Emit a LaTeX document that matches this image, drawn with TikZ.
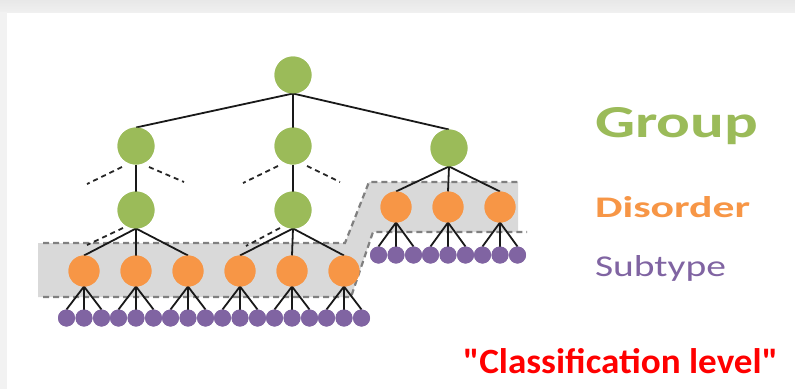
\documentclass[tikz,border=0pt]{standalone}
\usepackage{fontspec}
\usepackage{graphicx}
\setmainfont{Carlito}[Ligatures=TeXOff]
\definecolor{grp}{HTML}{9BBB59}
\definecolor{dis}{HTML}{F79646}
\definecolor{sub}{HTML}{8064A2}
\definecolor{bandfill}{HTML}{D9D9D9}
\definecolor{bandline}{HTML}{808080}
\tikzset{
  groupnode/.style={circle,fill=grp,minimum size=37pt,inner sep=0pt,outer sep=0pt},
  disnode/.style={circle,fill=dis,minimum size=31pt,inner sep=0pt,outer sep=0pt},
  subnode/.style={circle,fill=sub,minimum size=17pt,inner sep=0pt,outer sep=0pt},
  edge/.style={draw=black!90,line width=1.8pt},
  hintline/.style={draw=black!85,line width=1.8pt,dash pattern=on 5pt off 4pt},
  bandedge/.style={draw=bandline,line width=2.2pt,dash pattern=on 6pt off 4pt},
  label/.style={anchor=base west,inner sep=0pt,outer sep=0pt},
}
\begin{document}
\begin{tikzpicture}[x=1pt,y=-1pt]
  \useasboundingbox (0,0) rectangle (795,389);
  % page frame
  \fill[white] (0,0) rectangle (795,389);
  \shade[top color=black!9,bottom color=black!6] (0,0) rectangle (795,12);
  \fill[black!5] (0,12) rectangle (7,389);

  % shaded band holding the disorder level
  \fill[bandfill] (38,243) -- (345,243) -- (369,182) -- (518,182) -- (518,232)
                  -- (373,232) -- (351,297) -- (38,297) -- cycle;
  \draw[bandedge] (43,243) -- (345,243) -- (369,182) -- (518,182);
  \draw[bandedge] (43,297) -- (351,297) -- (373,232) -- (527,232);

  % group level
  \node[groupnode] (root) at (293,75) {};
  \node[groupnode] (ga) at (136,146) {};
  \node[groupnode] (gb) at (293,146) {};
  \node[groupnode] (gc) at (449,148) {};
  \node[groupnode] (gaa) at (136,210) {};
  \node[groupnode] (gba) at (293,210) {};

  % disorder level
  \foreach \i/\x in {1/84,2/136,3/188,4/240,5/292,6/344}
    \node[disnode] (d\i) at (\x,271) {};
  \foreach \i/\x in {7/396,8/448,9/500}
    \node[disnode] (d\i) at (\x,207) {};

  % subtype level
  \foreach \i/\x in {1/84,2/136,3/188,4/240,5/292,6/344} {
    \node[subnode] (s\i a) at (\x-17.5,318) {};
    \node[subnode] (s\i b) at (\x,318) {};
    \node[subnode] (s\i c) at (\x+17.5,318) {};
  }
  \foreach \i/\x in {7/396,8/448,9/500} {
    \node[subnode] (s\i a) at (\x-17.5,255) {};
    \node[subnode] (s\i b) at (\x,255) {};
    \node[subnode] (s\i c) at (\x+17.5,255) {};
  }

  % ends of the elided branches
  \coordinate (ha1) at (122,167); \coordinate (ha2) at (87,184);
  \coordinate (hb1) at (149,167); \coordinate (hb2) at (184,182);
  \coordinate (hc1) at (278,166); \coordinate (hc2) at (243,183);
  \coordinate (hd1) at (307,166); \coordinate (hd2) at (340,182);
  \coordinate (he1) at (123,228); \coordinate (he2) at (87,245);
  \coordinate (hf1) at (280,228); \coordinate (hf2) at (246,246);

  % connectors
  \foreach \c in {ga,gb,gc} \draw[edge] (root.south) -- (\c.north);
  \draw[edge] (ga.south) -- (gaa.north);
  \draw[edge] (gb.south) -- (gba.north);
  \foreach \d in {1,2,3} \draw[edge] (gaa.south) -- (d\d.north);
  \foreach \d in {4,5,6} \draw[edge] (gba.south) -- (d\d.north);
  \foreach \d in {7,8,9} \draw[edge] (gc.south) -- (d\d.north);
  \foreach \d in {1,...,9}
    \foreach \s in {a,b,c}
      \draw[edge] (d\d.south) -- (s\d\s.north);

  \draw[hintline] (ha1) -- (ha2);
  \draw[hintline] (hb1) -- (hb2);
  \draw[hintline] (hc1) -- (hc2);
  \draw[hintline] (hd1) -- (hd2);
  \draw[hintline] (he1) -- (he2);
  \draw[hintline] (hf1) -- (hf2);

  % discs painted again so they sit above the connectors
  \foreach \n in {root,ga,gb,gc,gaa,gba}
    \fill[grp] (\n) circle (18.5pt);
  \foreach \d in {1,...,9}
    \fill[dis] (d\d) circle (15.5pt);
  \foreach \d in {1,...,9}
    \foreach \s in {a,b,c}
      \fill[sub] (s\d\s) circle (8.5pt);

  % legend
  \node[label,text=grp] (lg) at (595,137) {\resizebox{163pt}{30pt}{\bfseries Group}};
  \node[label,text=dis] (ld) at (595,217) {\resizebox{155pt}{21pt}{\bfseries Disorder}};
  \node[label,text=sub] (ls) at (595,276) {\resizebox{131pt}{21pt}{Subtype}};
  \node[label,text=red] (lc) at (463,373) {\resizebox{315pt}{25pt}{\bfseries "Classification level"}};
\end{tikzpicture}
\end{document}
